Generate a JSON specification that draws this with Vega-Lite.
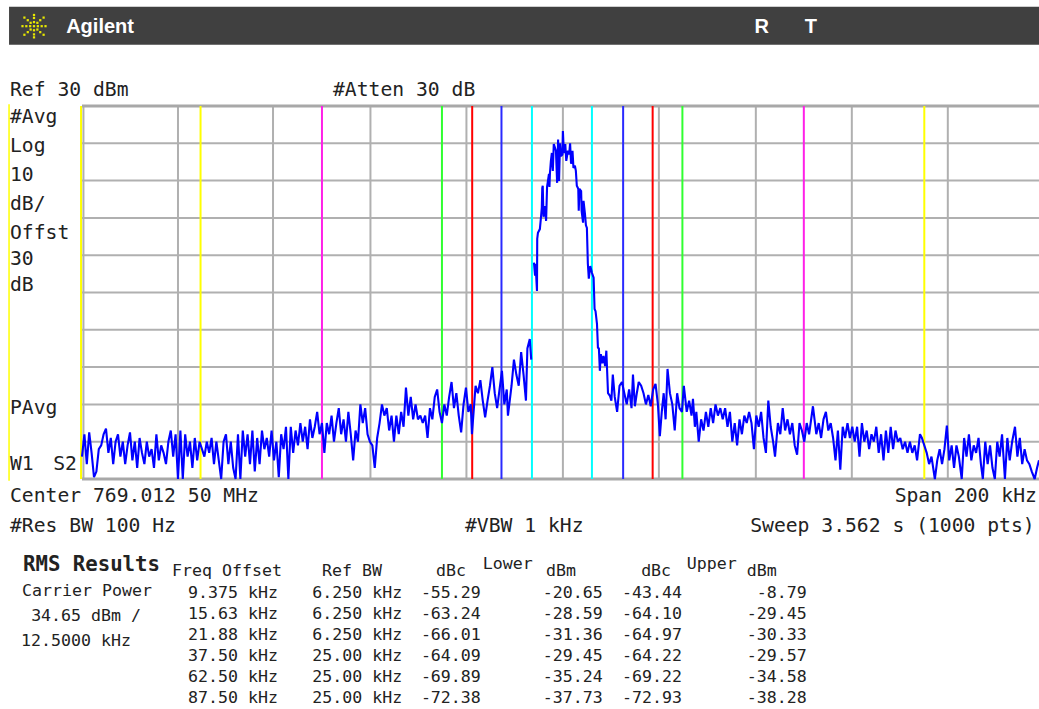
{"$schema":"https://vega.github.io/schema/vega-lite/v6.json","width":957,"height":373,"autosize":"none","padding":{"left":82,"top":106,"right":0,"bottom":230},"background":"white",
"config":{"view":{"stroke":null}},
"datasets":{
"traceA":[
{"f":-100,"p":-64},{"f":-99.5,"p":-58},{"f":-99,"p":-66},{"f":-98.5,"p":-57.5},{"f":-98,"p":-63},{"f":-97.5,"p":-69.5},{"f":-97,"p":-68},{"f":-96.5,"p":-62},{"f":-96,"p":-61},{"f":-95.5,"p":-58},{"f":-95,"p":-56.5},{"f":-94.5,"p":-63},{"f":-94,"p":-59},{"f":-93.5,"p":-66},{"f":-93,"p":-60},{"f":-92.5,"p":-58},{"f":-92,"p":-64},{"f":-91.5,"p":-60},{"f":-91,"p":-66},{"f":-90.5,"p":-61},{"f":-90,"p":-57.5},{"f":-89.5,"p":-65},{"f":-89,"p":-60},{"f":-88.5,"p":-67},{"f":-88,"p":-59},{"f":-87.5,"p":-63},{"f":-87,"p":-66},{"f":-86.5,"p":-60},{"f":-86,"p":-64},{"f":-85.5,"p":-62},{"f":-85,"p":-67},{"f":-84.5,"p":-58},{"f":-84,"p":-65},{"f":-83.5,"p":-61},{"f":-83,"p":-63},{"f":-82.5,"p":-66},{"f":-82,"p":-60},{"f":-81.5,"p":-57},{"f":-81,"p":-64},{"f":-80.5,"p":-58},{"f":-80,"p":-70},{"f":-79.5,"p":-57},{"f":-79,"p":-70},{"f":-78.5,"p":-58},{"f":-78,"p":-64},{"f":-77.5,"p":-60},{"f":-77,"p":-67},{"f":-76.5,"p":-59},{"f":-76,"p":-65},{"f":-75.5,"p":-60},{"f":-75,"p":-62},{"f":-74.5,"p":-64},{"f":-74,"p":-60},{"f":-73.5,"p":-63},{"f":-73,"p":-59},{"f":-72.5,"p":-66},{"f":-72,"p":-60},{"f":-71.5,"p":-65},{"f":-71,"p":-70},{"f":-70.5,"p":-60},{"f":-70,"p":-58},{"f":-69.5,"p":-66},{"f":-69,"p":-60},{"f":-68.5,"p":-67},{"f":-68,"p":-70},{"f":-67.5,"p":-58},{"f":-67,"p":-70},{"f":-66.5,"p":-57},{"f":-66,"p":-64},{"f":-65.5,"p":-58},{"f":-65,"p":-66},{"f":-64.5,"p":-57},{"f":-64,"p":-68},{"f":-63.5,"p":-59},{"f":-63,"p":-66},{"f":-62.5,"p":-57},{"f":-62,"p":-62},{"f":-61.5,"p":-59},{"f":-61,"p":-64},{"f":-60.5,"p":-57},{"f":-60,"p":-65},{"f":-59.5,"p":-60},{"f":-59,"p":-69.5},{"f":-58.5,"p":-58},{"f":-58,"p":-62},{"f":-57.5,"p":-56},{"f":-57,"p":-70},{"f":-56.5,"p":-56},{"f":-56,"p":-63},{"f":-55.5,"p":-57},{"f":-55,"p":-61},{"f":-54.5,"p":-55},{"f":-54,"p":-60},{"f":-53.5,"p":-56},{"f":-53,"p":-62},{"f":-52.5,"p":-54},{"f":-52,"p":-59},{"f":-51.5,"p":-56},{"f":-51,"p":-52},{"f":-50.5,"p":-58},{"f":-50,"p":-55},{"f":-49.5,"p":-63},{"f":-49,"p":-55},{"f":-48.5,"p":-58},{"f":-48,"p":-53},{"f":-47.5,"p":-60},{"f":-47,"p":-55},{"f":-46.5,"p":-51},{"f":-46,"p":-58},{"f":-45.5,"p":-54},{"f":-45,"p":-60},{"f":-44.5,"p":-52},{"f":-44,"p":-58},{"f":-43.5,"p":-65},{"f":-43,"p":-57},{"f":-42.5,"p":-60},{"f":-42,"p":-50},{"f":-41.5,"p":-55},{"f":-41,"p":-51},{"f":-40.5,"p":-58},{"f":-40,"p":-60},{"f":-39.5,"p":-61},{"f":-39,"p":-67},{"f":-38.5,"p":-59},{"f":-38,"p":-55},{"f":-37.5,"p":-50},{"f":-37,"p":-53},{"f":-36.5,"p":-51},{"f":-36,"p":-57},{"f":-35.5,"p":-53},{"f":-35,"p":-60},{"f":-34.5,"p":-53},{"f":-34,"p":-58},{"f":-33.5,"p":-52},{"f":-33,"p":-56},{"f":-32.5,"p":-45.5},{"f":-32,"p":-53},{"f":-31.5,"p":-48},{"f":-31,"p":-54},{"f":-30.5,"p":-50},{"f":-30,"p":-54},{"f":-29.5,"p":-53},{"f":-29,"p":-55},{"f":-28.5,"p":-53},{"f":-28,"p":-59},{"f":-27.5,"p":-51},{"f":-27,"p":-54},{"f":-26.5,"p":-48},{"f":-26,"p":-46},{"f":-25.5,"p":-52},{"f":-25,"p":-55},{"f":-24.5,"p":-50},{"f":-24,"p":-53},{"f":-23.5,"p":-48},{"f":-23,"p":-44},{"f":-22.5,"p":-51},{"f":-22,"p":-47},{"f":-21.5,"p":-53},{"f":-21,"p":-57.5},{"f":-20.5,"p":-50},{"f":-20,"p":-45.5},{"f":-19.5,"p":-52},{"f":-19,"p":-50},{"f":-18.75,"p":-58},{"f":-18,"p":-45},{"f":-17.5,"p":-47},{"f":-17,"p":-43.5},{"f":-16.5,"p":-49},{"f":-16,"p":-53.5},{"f":-15.5,"p":-49},{"f":-15,"p":-45},{"f":-14.5,"p":-40},{"f":-14,"p":-47},{"f":-13.5,"p":-51},{"f":-13,"p":-46},{"f":-12.5,"p":-41},{"f":-12,"p":-50},{"f":-11.5,"p":-46},{"f":-11.25,"p":-53},{"f":-10.5,"p":-45},{"f":-10,"p":-38},{"f":-9.5,"p":-42},{"f":-9,"p":-45},{"f":-8.5,"p":-36},{"f":-8,"p":-42},{"f":-7.5,"p":-49},{"f":-7.2,"p":-35},{"f":-6.7,"p":-32.5},{"f":-6.4,"p":-38}],
"traceB":[
{"f":-5.83,"p":-12},{"f":-5.6,"p":-15.5},{"f":-5.5,"p":-12.3},{"f":-5.4,"p":-14.7},{"f":-5.2,"p":-19.6},{"f":-5.15,"p":-5.6},{"f":-5,"p":-4},{"f":-4.6,"p":-3},{"f":-4.4,"p":-0.3},{"f":-4.2,"p":2.7},{"f":-4.1,"p":8},{"f":-4,"p":8.6},{"f":-3.85,"p":0.3},{"f":-3.5,"p":3.2},{"f":-3.3,"p":-0.8},{"f":-3.1,"p":8.3},{"f":-2.7,"p":11.8},{"f":-2.6,"p":8.3},{"f":-2.5,"p":12},{"f":-2.3,"p":15.3},{"f":-2.1,"p":17.4},{"f":-1.9,"p":12.6},{"f":-1.7,"p":19.8},{"f":-1.25,"p":18},{"f":-1,"p":9.4},{"f":-0.8,"p":21},{"f":-0.6,"p":9.9},{"f":-0.4,"p":20},{"f":-0.2,"p":16.6},{"f":0.1,"p":17},{"f":0.2,"p":23.3},{"f":0.4,"p":17.4},{"f":0.7,"p":19.8},{"f":0.9,"p":15.3},{"f":1.25,"p":18},{"f":1.5,"p":17},{"f":1.7,"p":20},{"f":1.9,"p":14.5},{"f":2.2,"p":18},{"f":2.4,"p":13.4},{"f":2.7,"p":14},{"f":2.9,"p":12.6},{"f":3.1,"p":8.6},{"f":3.4,"p":7.8},{"f":3.5,"p":1.9},{"f":3.65,"p":7.8},{"f":4,"p":7.2},{"f":4.1,"p":1.9},{"f":4.4,"p":-1.3},{"f":4.5,"p":4.6},{"f":4.8,"p":1},{"f":5,"p":-2},{"f":5.2,"p":-2.7},{"f":5.4,"p":-12.3},{"f":5.6,"p":-16.3},{"f":5.9,"p":-12.9},{"f":6.25,"p":-14.7},{"f":6.6,"p":-16},{"f":6.8,"p":-24.4},{"f":7,"p":-25},{"f":7.3,"p":-28.4},{"f":7.5,"p":-34.8},{"f":7.7,"p":-35},{"f":7.9,"p":-41},{"f":8.1,"p":-36.5},{"f":8.4,"p":-39},{"f":8.65,"p":-37},{"f":9,"p":-39.7},{"f":9.25,"p":-35.6},{"f":9.6,"p":-47},{"f":10,"p":-47.7},{"f":10.3,"p":-49},{"f":10.6,"p":-42},{"f":11,"p":-48},{"f":11.5,"p":-52},{"f":12,"p":-45},{"f":12.5,"p":-44},{"f":13,"p":-47},{"f":13.5,"p":-50},{"f":14,"p":-46},{"f":14.5,"p":-51},{"f":14.8,"p":-42},{"f":15.2,"p":-50.5},{"f":15.6,"p":-47},{"f":16,"p":-44},{"f":16.5,"p":-45},{"f":17,"p":-47},{"f":17.5,"p":-50},{"f":18,"p":-47.5},{"f":18.5,"p":-50.5},{"f":19,"p":-46},{"f":19.5,"p":-44.5},{"f":20,"p":-50},{"f":20.4,"p":-58.5},{"f":20.8,"p":-52},{"f":21.2,"p":-47},{"f":21.6,"p":-54},{"f":22,"p":-40.5},{"f":22.5,"p":-47},{"f":23,"p":-50},{"f":23.5,"p":-57},{"f":24,"p":-47},{"f":24.5,"p":-51},{"f":25,"p":-52},{"f":25.4,"p":-45},{"f":26,"p":-52},{"f":26.5,"p":-49},{"f":27,"p":-53},{"f":27.3,"p":-48.5},{"f":27.7,"p":-56},{"f":28,"p":-52},{"f":28.5,"p":-60},{"f":29,"p":-54},{"f":29.5,"p":-57},{"f":30,"p":-52},{"f":30.5,"p":-56},{"f":31,"p":-51},{"f":31.5,"p":-55},{"f":32,"p":-50},{"f":32.5,"p":-53},{"f":33,"p":-51},{"f":33.5,"p":-54},{"f":34,"p":-51},{"f":34.5,"p":-56},{"f":35,"p":-52},{"f":35.5,"p":-60},{"f":36,"p":-55},{"f":36.5,"p":-61},{"f":37,"p":-54},{"f":37.5,"p":-58},{"f":38,"p":-53},{"f":38.5,"p":-55},{"f":39,"p":-52},{"f":39.5,"p":-55},{"f":40,"p":-62},{"f":40.5,"p":-53},{"f":41,"p":-56},{"f":41.5,"p":-52},{"f":42,"p":-59},{"f":42.5,"p":-63},{"f":43,"p":-49},{"f":43.5,"p":-56},{"f":44,"p":-60},{"f":44.4,"p":-64},{"f":45,"p":-55},{"f":45.5,"p":-58},{"f":46,"p":-51},{"f":46.5,"p":-57},{"f":47,"p":-54},{"f":47.5,"p":-58},{"f":48,"p":-55},{"f":48.5,"p":-61},{"f":49,"p":-63.5},{"f":49.5,"p":-55},{"f":50,"p":-57},{"f":50.5,"p":-60},{"f":51,"p":-55},{"f":51.5,"p":-58},{"f":52.3,"p":-50.5},{"f":53,"p":-58},{"f":53.5,"p":-55},{"f":54,"p":-59},{"f":54.5,"p":-54},{"f":55,"p":-52},{"f":55.5,"p":-57},{"f":56,"p":-55},{"f":56.5,"p":-59},{"f":57,"p":-65},{"f":57.5,"p":-57},{"f":58,"p":-67.5},{"f":58.5,"p":-56},{"f":59,"p":-59},{"f":59.5,"p":-55},{"f":60,"p":-59},{"f":60.5,"p":-56},{"f":61,"p":-60},{"f":61.5,"p":-56},{"f":62,"p":-64},{"f":62.5,"p":-55},{"f":63,"p":-60},{"f":63.5,"p":-57},{"f":64,"p":-62},{"f":64.5,"p":-58},{"f":65,"p":-60},{"f":65.5,"p":-56},{"f":66,"p":-63},{"f":66.5,"p":-58},{"f":67,"p":-65},{"f":67.5,"p":-57},{"f":68,"p":-63},{"f":68.5,"p":-56},{"f":69,"p":-62},{"f":69.5,"p":-57},{"f":70,"p":-60},{"f":70.5,"p":-59},{"f":71,"p":-62},{"f":71.5,"p":-60},{"f":72,"p":-63},{"f":72.5,"p":-60},{"f":73,"p":-63},{"f":73.5,"p":-61},{"f":74,"p":-65},{"f":74.6,"p":-58},{"f":75,"p":-59},{"f":75.5,"p":-61},{"f":76,"p":-63},{"f":76.5,"p":-66},{"f":77,"p":-64},{"f":77.7,"p":-70},{"f":78.2,"p":-65},{"f":78.7,"p":-62},{"f":79.2,"p":-66},{"f":79.7,"p":-62},{"f":80.2,"p":-55.7},{"f":80.7,"p":-65},{"f":81.2,"p":-61},{"f":81.7,"p":-67},{"f":82.2,"p":-61},{"f":82.7,"p":-64},{"f":83.3,"p":-70},{"f":83.8,"p":-59},{"f":84.3,"p":-64},{"f":84.8,"p":-58},{"f":85.3,"p":-65},{"f":85.8,"p":-61},{"f":86.3,"p":-63},{"f":86.8,"p":-59},{"f":87.3,"p":-66},{"f":87.7,"p":-70},{"f":88.2,"p":-60},{"f":88.7,"p":-66},{"f":89.2,"p":-61},{"f":89.7,"p":-67},{"f":90.2,"p":-70},{"f":90.7,"p":-60},{"f":91.2,"p":-64},{"f":91.7,"p":-58},{"f":92.3,"p":-70},{"f":92.8,"p":-59},{"f":93.3,"p":-65},{"f":93.8,"p":-60},{"f":94.4,"p":-56},{"f":94.9,"p":-64},{"f":95.4,"p":-59},{"f":95.9,"p":-66},{"f":96.4,"p":-62},{"f":96.9,"p":-65},{"f":97.4,"p":-66},{"f":97.9,"p":-68},{"f":98.5,"p":-70},{"f":99,"p":-67},{"f":99.4,"p":-65}],
"markers":[{"f":-75.3,"m":"C"},{"f":75.5,"m":"C"},{"f":-50,"m":"D"},{"f":50.4,"m":"D"},{"f":-25,"m":"E"},{"f":25.1,"m":"E"},{"f":-18.7,"m":"F"},{"f":18.9,"m":"F"},{"f":-12.6,"m":"G"},{"f":12.75,"m":"G"},{"f":-6.25,"m":"H"},{"f":6.25,"m":"H"},{"f":-100.2,"m":"C"}],
"gridV":[{"f":-99.7},{"f":-80},{"f":-60.2},{"f":-39.9},{"f":-19.9},{"f":0.2},{"f":20.2},{"f":40.4},{"f":60.4},{"f":80.4}],
"gridH":[{"p":20},{"p":10},{"p":0},{"p":-10},{"p":-20},{"p":-30},{"p":-40},{"p":-50},{"p":-60}],
"frame":[{"p":30},{"p":-70}],
"labels":[
{"t":"Ref 30 dBm","f":-115,"p":34.3},{"t":"#Atten 30 dB","f":-47.7,"p":34.3},{"t":"#Avg","f":-115,"p":27},{"t":"Log","f":-115,"p":19.3},{"t":"10","f":-115,"p":11.5},{"t":"dB/","f":-115,"p":3.7},{"t":"Offst","f":-115,"p":-4},{"t":"30","f":-115,"p":-11},{"t":"dB","f":-115,"p":-18},{"t":"PAvg","f":-115,"p":-51},{"t":"W1","f":-115,"p":-66},{"t":"S2","f":-106,"p":-66},{"t":"Center 769.012 50 MHz","f":-115,"p":-74.6},{"t":"#Res BW 100 Hz","f":-115,"p":-82.6},{"t":"#VBW 1 kHz","f":-20.2,"p":-82.6}],
"labelsRight":[{"t":"Span 200 kHz","f":98.96,"p":-74.6},{"t":"Sweep 3.562 s (1000 pts)","f":98.5,"p":-82.6}],
"tableLeft":[
{"t":"Freq Offset","f":-81.25,"p":-94.7},{"t":"Ref BW","f":-50,"p":-94.7},{"t":"dBc","f":-26.25,"p":-94.7},{"t":"Lower","f":-16.5,"p":-92.8},{"t":"dBm","f":-3.3,"p":-94.7},{"t":"dBc","f":16.5,"p":-94.7},{"t":"Upper","f":26,"p":-92.8},{"t":"dBm","f":38.5,"p":-94.7},
{"t":"Carrier Power","f":-112.5,"p":-100},{"t":"34.65 dBm /","f":-110.6,"p":-106.7},{"t":"12.5000 kHz","f":-112.7,"p":-113.4},
{"t":"9.375 kHz","f":-77.9,"p":-100.6},{"t":"15.63 kHz","f":-77.9,"p":-106.2},{"t":"21.88 kHz","f":-77.9,"p":-111.8},{"t":"37.50 kHz","f":-77.9,"p":-117.5},{"t":"62.50 kHz","f":-77.9,"p":-123.1},{"t":"87.50 kHz","f":-77.9,"p":-128.7},
{"t":"6.250 kHz","f":-52,"p":-100.6},{"t":"6.250 kHz","f":-52,"p":-106.2},{"t":"6.250 kHz","f":-52,"p":-111.8},{"t":"25.00 kHz","f":-52,"p":-117.5},{"t":"25.00 kHz","f":-52,"p":-123.1},{"t":"25.00 kHz","f":-52,"p":-128.7}],
"tableRight":[
{"t":"-55.29","f":-16.9,"p":-100.6},{"t":"-63.24","f":-16.9,"p":-106.2},{"t":"-66.01","f":-16.9,"p":-111.8},{"t":"-64.09","f":-16.9,"p":-117.5},{"t":"-69.89","f":-16.9,"p":-123.1},{"t":"-72.38","f":-16.9,"p":-128.7},
{"t":"-20.65","f":8.5,"p":-100.6},{"t":"-28.59","f":8.5,"p":-106.2},{"t":"-31.36","f":8.5,"p":-111.8},{"t":"-29.45","f":8.5,"p":-117.5},{"t":"-35.24","f":8.5,"p":-123.1},{"t":"-37.73","f":8.5,"p":-128.7},
{"t":"-43.44","f":25,"p":-100.6},{"t":"-64.10","f":25,"p":-106.2},{"t":"-64.97","f":25,"p":-111.8},{"t":"-64.22","f":25,"p":-117.5},{"t":"-69.22","f":25,"p":-123.1},{"t":"-72.93","f":25,"p":-128.7},
{"t":"-8.79","f":51,"p":-100.6},{"t":"-29.45","f":51,"p":-106.2},{"t":"-30.33","f":51,"p":-111.8},{"t":"-29.57","f":51,"p":-117.5},{"t":"-34.58","f":51,"p":-123.1},{"t":"-38.28","f":51,"p":-128.7}],
"headerText":[{"t":"Agilent","f":-103.3,"p":51.2},{"t":"R","f":40.1,"p":51.2},{"t":"T","f":50.6,"p":51.2}],
"logo":[{"f":-110,"p":51.4},{"f":-110.8,"p":51.4},{"f":-109.2,"p":51.4},{"f":-111.6,"p":51.4},{"f":-108.4,"p":51.4},{"f":-112.4,"p":51.4},{"f":-107.6,"p":51.4},{"f":-110,"p":52.5},{"f":-110,"p":50.3},{"f":-110,"p":53.6},{"f":-110,"p":49.2},{"f":-110,"p":54.4},{"f":-110,"p":48.4},{"f":-110.7,"p":52.3},{"f":-109.3,"p":52.3},{"f":-110.7,"p":50.5},{"f":-109.3,"p":50.5},{"f":-111.3,"p":53},{"f":-108.7,"p":53},{"f":-111.3,"p":49.8},{"f":-108.7,"p":49.8},{"f":-112,"p":53.7},{"f":-108,"p":53.7},{"f":-112,"p":49.1},{"f":-108,"p":49.1}]
},
"layer":[
{"data":{"values":[{"f":-115.2,"f2":99.4,"p":56.6,"p2":46.4}]},"mark":{"type":"rect","color":"#404040","clip":false},
"encoding":{"x":{"field":"f","type":"quantitative","scale":{"domain":[-100,99.4],"nice":false,"zero":false},"axis":null},"x2":{"field":"f2"},"y":{"field":"p","type":"quantitative","scale":{"domain":[-70,30],"nice":false,"zero":false},"axis":null},"y2":{"field":"p2"}}},
{"data":{"name":"gridV"},"mark":{"type":"rule","color":"#b0b0b0","strokeWidth":2},"encoding":{"x":{"field":"f","type":"quantitative"}}},
{"data":{"name":"gridH"},"mark":{"type":"rule","color":"#b0b0b0","strokeWidth":2},"encoding":{"y":{"field":"p","type":"quantitative"}}},
{"data":{"name":"frame"},"mark":{"type":"rule","color":"#a8a8a8","strokeWidth":3},"encoding":{"y":{"field":"p","type":"quantitative"}}},
{"data":{"values":[{"f":-115.2,"p":30.5,"p2":-70.5}]},"mark":{"type":"rule","color":"#ffff00","strokeWidth":1.5,"clip":false},"encoding":{"x":{"field":"f","type":"quantitative"},"y":{"field":"p","type":"quantitative"},"y2":{"field":"p2"}}},
{"data":{"name":"markers"},"mark":{"type":"rule","strokeWidth":2},"encoding":{"x":{"field":"f","type":"quantitative"},"color":{"field":"m","type":"nominal","legend":null,"scale":{"domain":["C","D","E","F","G","H"],"range":["#ffff00","#ff20e8","#30ff30","#ff0000","#2a2aff","#00ffff"]}}}},
{"data":{"name":"traceA"},"mark":{"type":"line","color":"#0000ff","strokeWidth":2.1,"strokeJoin":"miter","strokeMiterLimit":2},"encoding":{"x":{"field":"f","type":"quantitative"},"y":{"field":"p","type":"quantitative"},"order":{"field":"f","type":"quantitative"}}},
{"data":{"name":"traceB"},"mark":{"type":"line","color":"#0000ff","strokeWidth":2.1,"strokeJoin":"miter","strokeMiterLimit":2},"encoding":{"x":{"field":"f","type":"quantitative"},"y":{"field":"p","type":"quantitative"},"order":{"field":"f","type":"quantitative"}}},
{"data":{"name":"labels"},"mark":{"type":"text","align":"left","baseline":"middle","font":"DejaVu Sans Mono","fontSize":19.7,"color":"#222222","clip":false},"encoding":{"x":{"field":"f","type":"quantitative"},"y":{"field":"p","type":"quantitative"},"text":{"field":"t"}}},
{"data":{"name":"labelsRight"},"mark":{"type":"text","align":"right","baseline":"middle","font":"DejaVu Sans Mono","fontSize":19.7,"color":"#222222","clip":false},"encoding":{"x":{"field":"f","type":"quantitative"},"y":{"field":"p","type":"quantitative"},"text":{"field":"t"}}},
{"data":{"name":"tableLeft"},"mark":{"type":"text","align":"left","baseline":"middle","font":"DejaVu Sans Mono","fontSize":16.6,"color":"#222222","clip":false},"encoding":{"x":{"field":"f","type":"quantitative"},"y":{"field":"p","type":"quantitative"},"text":{"field":"t"}}},
{"data":{"name":"tableRight"},"mark":{"type":"text","align":"right","baseline":"middle","font":"DejaVu Sans Mono","fontSize":16.6,"color":"#222222","clip":false},"encoding":{"x":{"field":"f","type":"quantitative"},"y":{"field":"p","type":"quantitative"},"text":{"field":"t"}}},
{"data":{"values":[{"t":"RMS Results","f":-112.3,"p":-93.1}]},"mark":{"type":"text","align":"left","baseline":"middle","font":"DejaVu Sans Mono","fontWeight":"bold","fontSize":20.7,"color":"#222222","clip":false},"encoding":{"x":{"field":"f","type":"quantitative"},"y":{"field":"p","type":"quantitative"},"text":{"field":"t"}}},
{"data":{"name":"headerText"},"mark":{"type":"text","align":"left","baseline":"middle","font":"Liberation Sans","fontWeight":"bold","fontSize":20,"color":"#ffffff","clip":false},"encoding":{"x":{"field":"f","type":"quantitative"},"y":{"field":"p","type":"quantitative"},"text":{"field":"t"}}},
{"data":{"name":"logo"},"mark":{"type":"point","shape":"square","filled":true,"size":5,"color":"#e8e800","opacity":1,"clip":false},"encoding":{"x":{"field":"f","type":"quantitative"},"y":{"field":"p","type":"quantitative"}}}
]}
